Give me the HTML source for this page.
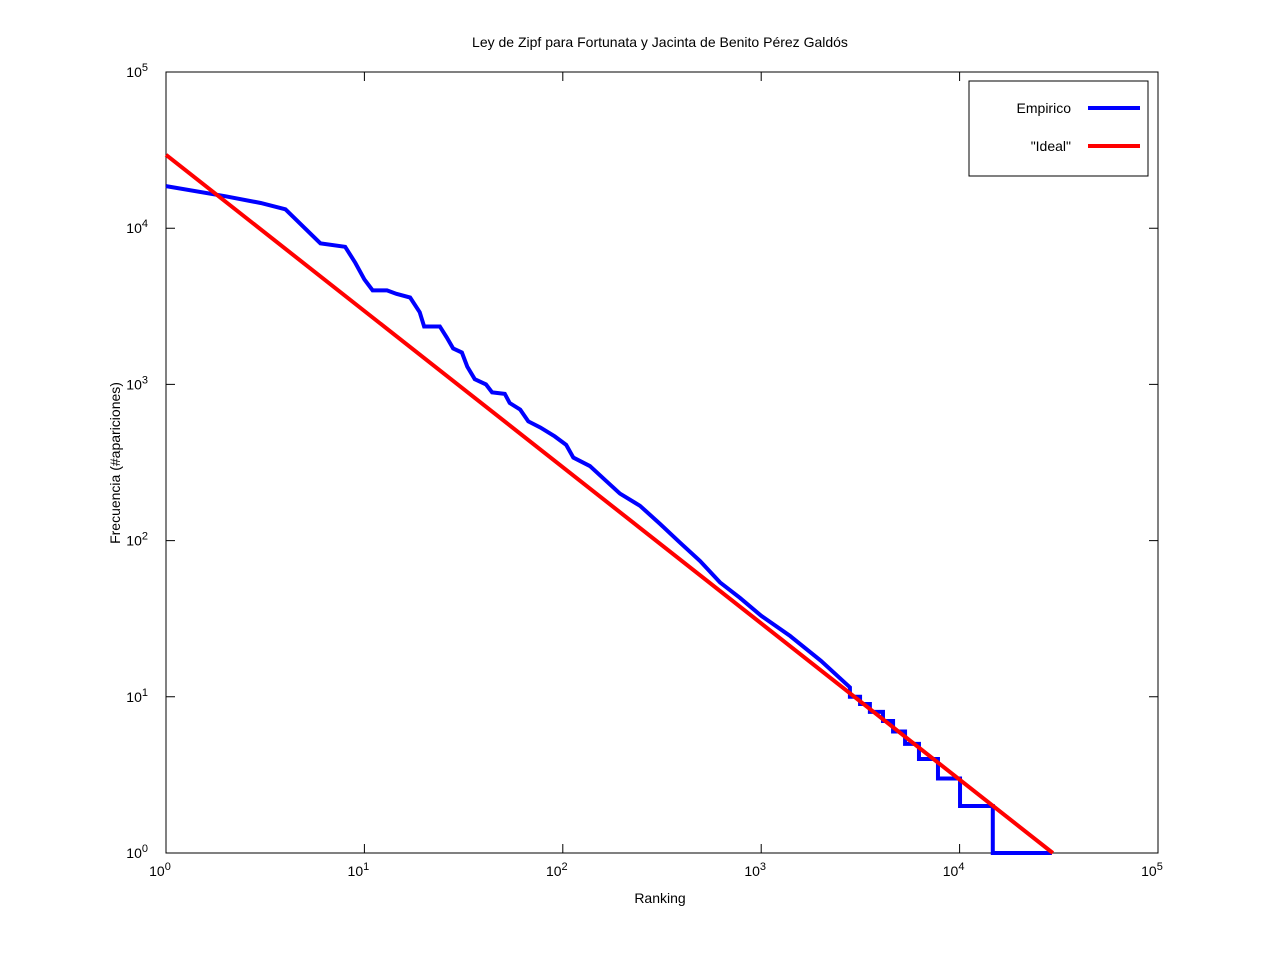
<!DOCTYPE html>
<html><head><meta charset="utf-8"><style>
body{margin:0;background:#fff;}
svg text{font-family:"Liberation Sans",sans-serif;font-size:14px;fill:#000;}
</style></head><body>
<svg id="chart" width="1280" height="960" xmlns="http://www.w3.org/2000/svg">
<text x="660" y="47" text-anchor="middle">Ley de Zipf para Fortunata y Jacinta de Benito Pérez Galdós</text>
<rect x="166" y="72" width="992" height="781" fill="none" stroke="#000" stroke-width="1"/>
<g id="ticks"></g>
<text x="660" y="903" text-anchor="middle">Ranking</text>
<text transform="translate(120,463) rotate(-90)" text-anchor="middle">Frecuencia (#apariciones)</text>
<g id="series"></g>
<g>
<rect x="969" y="81" width="179" height="95" fill="#fff" stroke="#000"/>
<text x="1071" y="113" text-anchor="end">Empirico</text>
<line x1="1088" y1="108" x2="1140" y2="108" stroke="#0000ff" stroke-width="4"/>
<text x="1071" y="151" text-anchor="end">"Ideal"</text>
<line x1="1088" y1="146" x2="1140" y2="146" stroke="#ff0000" stroke-width="4"/>
</g>
</svg>
<script>
const decades = [0,1,2,3,4,5];
const empRank = [1,2,3,4,6,8,9,10,11,13,14.5,17,19,20,24,26,28,31,33,36,41,44,51,54,61,67,77,91,104,113,137,163,194,245,309,390,492,620,781,1000,1400,2000,2800,2800,3150,3150,3530,3530,4110,4110,4620,4620,5310,5310,6240,6240,7780,7780,10050,10050,14700,14700,29200];
const empFreq = [18600,16000,14500,13200,8000,7600,6000,4700,4000,4000,3800,3600,2900,2350,2350,2000,1700,1600,1300,1080,1000,890,870,760,690,580,530,465,410,340,300,245,200,167,128,97,74,54,43,33,24.5,17,11.5,10,10,9,9,8,8,7,7,6,6,5,5,4,4,3,3,2,2,1,1];
const idealRank = [1,29500];
const idealFreq = [29500,1];
const X0=166,X1=1158,Y0=853,Y1=72;
const xs=r=>X0+(Math.log10(r))/5*(X1-X0);
const ys=f=>Y0-(Math.log10(f))/5*(Y0-Y1);
const NS="http://www.w3.org/2000/svg";
const tg=document.getElementById('ticks');
function mk(tag,attrs,parent){const e=document.createElementNS(NS,tag);for(const k in attrs)e.setAttribute(k,attrs[k]);parent.appendChild(e);return e;}
decades.forEach(d=>{
  const x=xs(Math.pow(10,d)), y=ys(Math.pow(10,d));
  const l1=mk('path',{d:`M${x},${Y0}v-9M${x},${Y1}v9M${X0},${y}h9M${X1},${y}h-9`,stroke:'#000',fill:'none'},tg);
  
  
  const tx=mk('text',{x:x-6,y:876,'text-anchor':'middle'},tg);
  
  
  tx.innerHTML='10<tspan dy="-6" font-size="11">'+d+'</tspan>';
  const ty=mk('text',{x:148,y:y+5,'text-anchor':'end'},tg);
  
  
  ty.innerHTML='10<tspan dy="-6" font-size="11">'+d+'</tspan>';
});
const sg=document.getElementById('series');
const pe=mk('polyline',{points:empRank.map((r,i)=>xs(r)+','+ys(empFreq[i])).join(' '),fill:'none',stroke:'#0000ff','stroke-width':4},sg);


const pi=mk('polyline',{points:idealRank.map((r,i)=>xs(r)+','+ys(idealFreq[i])).join(' '),fill:'none',stroke:'#ff0000','stroke-width':4},sg);


</script>
</body></html>
